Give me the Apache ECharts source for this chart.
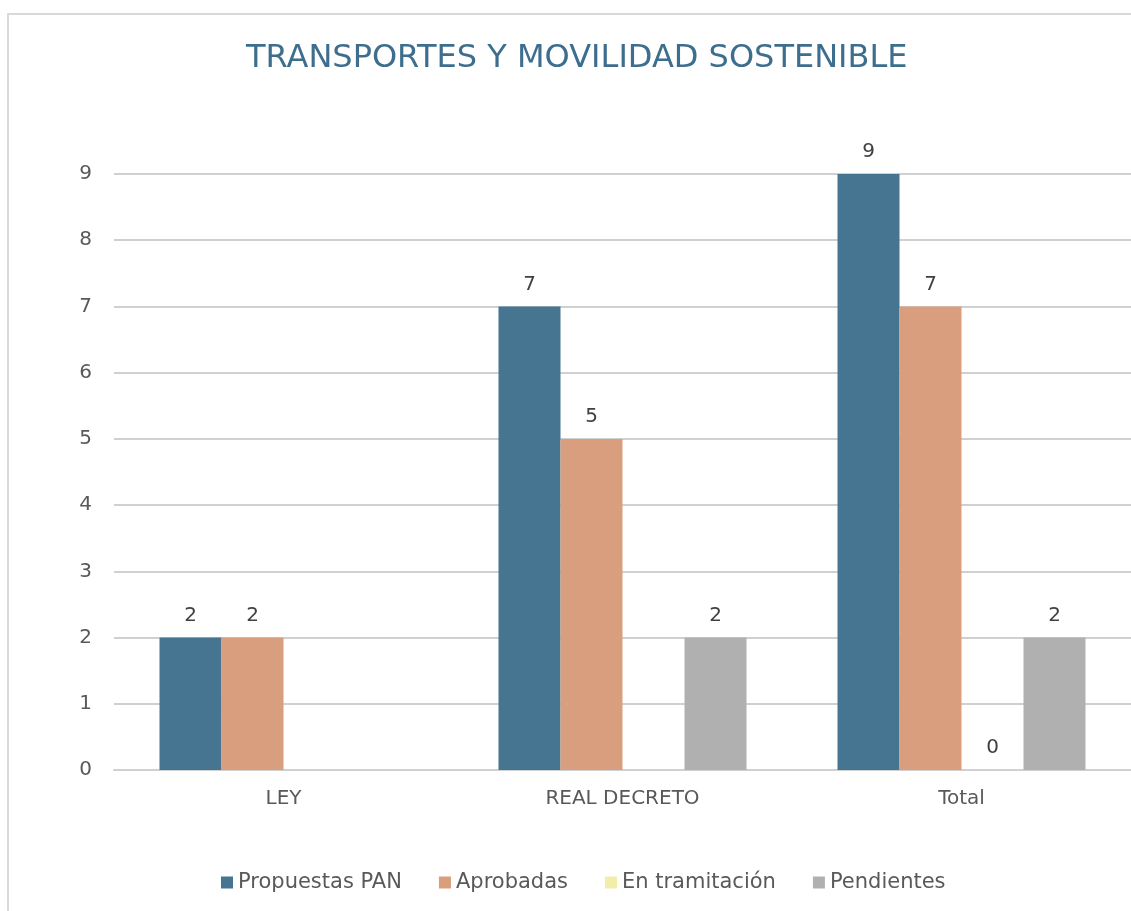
<!DOCTYPE html>
<html>
<head>
<meta charset="utf-8">
<title>Transportes y movilidad sostenible</title>
<script src="https://cdn.jsdelivr.net/npm/echarts@6/dist/echarts.min.js"></script>
<style>
  html, body { margin: 0; padding: 0; background: #fff; }
  #frame {
    position: absolute; left: 7px; top: 13px; width: 1140px; height: 920px;
    border: 2px solid #d9d9d9; box-sizing: border-box;
  }
  #chart { position: absolute; left: 0; top: 0; width: 1131px; height: 911px; }
</style>
</head>
<body>
<div id="frame"></div>
<div id="chart"></div>
<script>
var categories = ['LEY', 'REAL DECRETO', 'Total'];
var seriesNames = ['Propuestas PAN', 'Aprobadas', 'En tramitación', 'Pendientes'];
var propuestas = [2, 7, 9];
var aprobadas = [2, 5, 7];
var enTramitacion = [null, null, 0];
var pendientes = [null, 2, 2];
var colors = ['#467592', '#d99e7e', '#f2eda8', '#b0b0b0'];

var font = 'DejaVu Sans';
var chart = echarts.init(document.getElementById('chart'));

function barSeries(name, data, color) {
  return {
    name: name,
    type: 'bar',
    data: data,
    barWidth: 62,
    barGap: '0%',
    itemStyle: { color: color },
    label: {
      show: true,
      position: 'top',
      distance: 12,
      color: '#404040',
      fontFamily: font,
      fontSize: 20
    }
  };
}

var option = {
  animation: false,
  color: colors,
  title: {
    text: 'TRANSPORTES Y MOVILIDAD SOSTENIBLE',
    left: 241,
    top: 38,
    textStyle: { color: '#3e6e8e', fontFamily: font, fontSize: 32, fontWeight: 'normal' }
  },
  legend: {
    bottom: 13,
    left: 216,
    itemWidth: 12,
    itemHeight: 12,
    itemGap: 37,
    icon: 'rect',
    textStyle: { color: '#595959', fontFamily: font, fontSize: 21 },
    data: seriesNames
  },
  grid: { left: 114, right: 0, top: 174, bottom: 141 },
  xAxis: {
    type: 'category',
    data: categories,
    axisTick: { show: false },
    axisLine: { lineStyle: { color: '#d0d0d0', width: 2 } },
    axisLabel: { color: '#595959', fontFamily: font, fontSize: 20, margin: 19 }
  },
  yAxis: {
    type: 'value',
    min: 0,
    max: 9,
    interval: 1,
    axisLabel: { color: '#595959', fontFamily: font, fontSize: 20, margin: 22 },
    splitLine: { lineStyle: { color: '#d0d0d0', width: 2 } }
  },
  series: [
    barSeries(seriesNames[0], propuestas, colors[0]),
    barSeries(seriesNames[1], aprobadas, colors[1]),
    barSeries(seriesNames[2], enTramitacion, colors[2]),
    barSeries(seriesNames[3], pendientes, colors[3])
  ]
};
chart.setOption(option);
</script>
</body>
</html>
